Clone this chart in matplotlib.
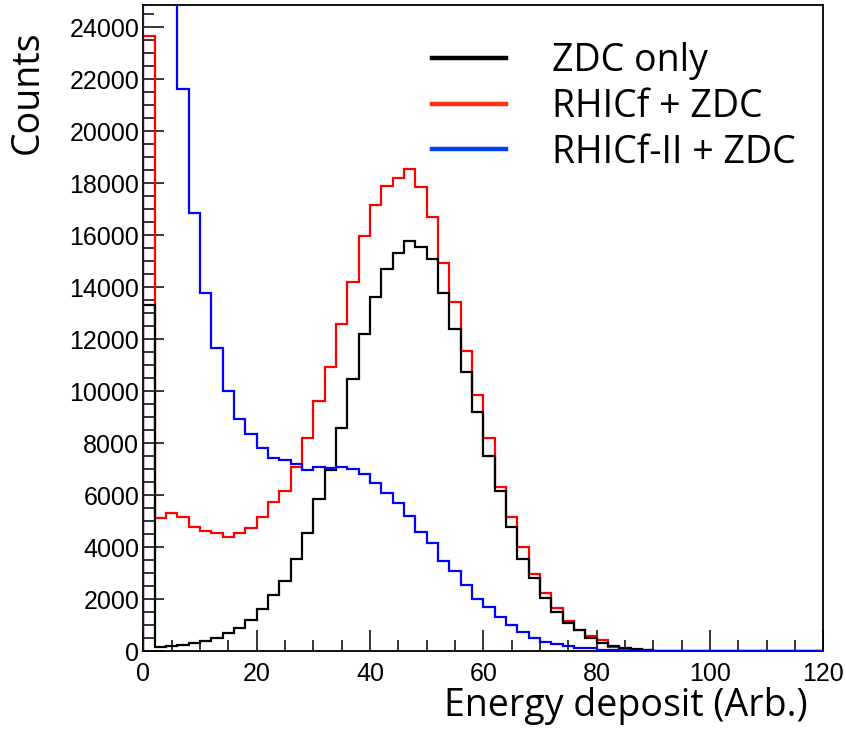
import numpy as np
from matplotlib import pyplot as plt
from matplotlib.lines import Line2D
from matplotlib.ticker import MultipleLocator

# 60 bins of width 2 from 0 to 120
bin_edges = np.arange(0, 122, 2)

zdc_only = [13300, 150, 180, 240, 300, 400, 500, 700, 900, 1190,
            1600, 2155, 2706, 3527, 4527, 5835, 6965, 8570, 10480, 12197,
            13632, 14685, 15325, 15787, 15532, 15070, 13762, 12377, 10747, 9208,
            7515, 6160, 4760, 3525, 2820, 2025, 1510, 1090, 810, 510,
            320, 190, 100, 60, 50, 0, 0, 0, 0, 0,
            0, 0, 0, 0, 0, 0, 0, 0, 0, 0]

rhicf_zdc = [23650, 5100, 5320, 5165, 4780, 4615, 4525, 4395, 4550, 4720,
             5165, 5720, 6155, 7090, 8180, 9630, 10920, 12570, 14205, 15975,
             17155, 17885, 18205, 18540, 17860, 16680, 14935, 13410, 11540, 9845,
             8180, 6320, 5165, 3990, 2960, 2220, 1640, 1165, 810, 560,
             420, 165, 80, 40, 20, 0, 0, 0, 0, 0,
             0, 0, 0, 0, 0, 0, 0, 0, 0, 0]

rhicf2_zdc = [48000, 37000, 28500, 21620, 16865, 13787, 11670, 10015, 8914, 8336,
              7797, 7437, 7349, 7183, 6965, 7068, 7030, 7093, 6990, 6810,
              6477, 6093, 5682, 5194, 4565, 4142, 3463, 3078, 2540, 1988,
              1706, 1320, 1000, 744, 510, 360, 255, 190, 100, 100,
              40, 40, 15, 10, 5, 0, 0, 0, 0, 0,
              0, 0, 0, 0, 0, 0, 0, 0, 0, 0]

labels = ["ZDC only", "RHICf + ZDC", "RHICf-II + ZDC"]

fig = plt.figure(figsize=(8.46, 7.30), dpi=100)
ax = fig.add_axes([0.1694, 0.1082, 0.8038, 0.8850])

ax.stairs(rhicf_zdc, bin_edges, color="red", lw=1.6, zorder=3)
ax.stairs(zdc_only, bin_edges, color="black", lw=1.6, zorder=3.1)
ax.stairs(rhicf2_zdc, bin_edges, color="blue", lw=1.6, zorder=3.2)

ax.set_xlim(0, 120)
ax.set_ylim(0, 24850)
ax.xaxis.set_major_locator(MultipleLocator(20))
ax.xaxis.set_minor_locator(MultipleLocator(5))
ax.yaxis.set_major_locator(MultipleLocator(2000))
ax.yaxis.set_minor_locator(MultipleLocator(500))
ax.tick_params(which="both", direction="in", top=False, right=False, width=1.1)
ax.tick_params(which="major", length=15)
ax.tick_params(which="minor", length=8)
ax.tick_params(axis="y", which="major", pad=3)
ax.tick_params(axis="x", which="major", pad=8)
for lab in ax.get_xticklabels() + ax.get_yticklabels():
    lab.set_family("Liberation Sans")
    lab.set_fontsize(18)
for sp in ax.spines.values():
    sp.set_linewidth(1.3)

ax.set_xlabel("Energy deposit (Arb.)", family="Open Sans", fontsize=27, ha="right", va="center")
ax.xaxis.set_label_coords(0.9775, -0.085)
# y label uses anchor rotation, so ha/va act along/across the text
ax.set_ylabel("Counts", family="Open Sans", fontsize=27, ha="right", va="center")
ax.yaxis.set_label_coords(-0.1696, 0.961)

handles = [Line2D([], [], color="black", lw=3.2),
           Line2D([], [], color="#ff3010", lw=3.2),
           Line2D([], [], color="#0040ff", lw=3.2)]
ax.legend(handles, labels, loc="upper left", bbox_to_anchor=(0.424, 0.943),
          frameon=False, borderaxespad=0, borderpad=0,
          prop={"family": "Open Sans", "size": 27},
          handlelength=1.97, handletextpad=1.25, labelspacing=0.21)

plt.savefig("out.png", dpi=100)
